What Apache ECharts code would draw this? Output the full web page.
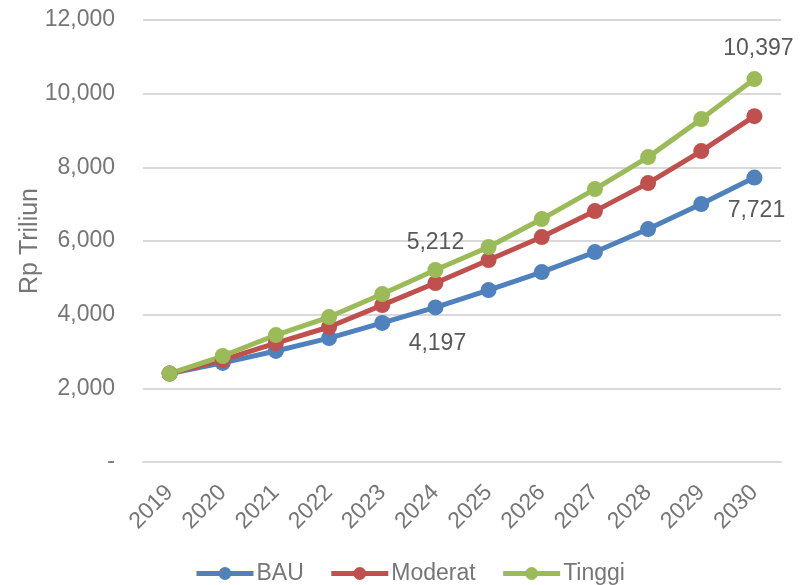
<!DOCTYPE html>
<html><head><meta charset="utf-8">
<script src="https://cdn.jsdelivr.net/npm/echarts@6/dist/echarts.min.js"></script>
<style>html,body{margin:0;padding:0;background:#fff}#c{width:806px;height:585px}</style>
</head><body><div id="c"></div>
<script>
const years = ['2019','2020','2021','2022','2023','2024','2025','2026','2027','2028','2029','2030'];
const bau = [2400, 2690, 3015, 3365, 3775, 4197, 4668, 5157, 5700, 6324, 7002, 7721];
const moderat = [2400, 2770, 3230, 3665, 4260, 4858, 5482, 6107, 6812, 7572, 8441, 9390];
const tinggi = [2400, 2877, 3447, 3935, 4560, 5212, 5835, 6595, 7409, 8278, 9309, 10397];
const yTicks = [0, 2000, 4000, 6000, 8000, 10000, 12000];
// labelled points
const labelled = {BAU: [5, 11], Tinggi: [5, 11]};

const font = 'Liberation Sans, Arial, sans-serif';
const FS = 23;
const axisColor = '#767676';
function mkData(name, arr) {
  return arr.map((v, i) => {
    if (!(labelled[name] && labelled[name].includes(i))) return v;
    let off = [0, 0], p = 'top';
    if (name === 'Tinggi' && i === 11) { p = 'top'; off = [4, -6]; }
    if (name === 'Tinggi' && i === 5) { p = 'top'; off = [0, -3]; }
    if (name === 'BAU' && i === 5) { p = 'bottom'; off = [2, 12]; }
    if (name === 'BAU' && i === 11) { p = 'bottom'; off = [2, 9]; }
    return {value: v, label: {show: true, position: p, offset: off,
      formatter: p2 => p2.value.toLocaleString('en-US'),
      color: '#595959', fontSize: FS, fontFamily: font}};
  });
}
const colors = {BAU: '#4f81bd', Moderat: '#c0504d', Tinggi: '#9bbb59'};
function ser(name, arr) {
  return {name, type: 'line', data: mkData(name, arr), symbol: 'circle', symbolSize: 16,
    lineStyle: {width: 5, color: colors[name]}, itemStyle: {color: colors[name]},
    label: {show: false}};
}
const chart = echarts.init(document.getElementById('c'));
chart.setOption({
  animation: false,
  grid: {left: 143, right: 25, top: 20, bottom: 123, containLabel: false},
  legend: {top: 557, left: 189, itemWidth: 57, itemHeight: 16, itemGap: 25,
    lineStyle: {width: 5}, 
    textStyle: {color: axisColor, fontSize: FS, fontFamily: font, padding: [0, 0, 0, -2]},
    data: ['BAU', 'Moderat', 'Tinggi']},
  xAxis: {type: 'category', data: years, boundaryGap: true,
    axisLine: {show: true, lineStyle: {color: '#d9d9d9', width: 2}},
    axisTick: {show: false},
    axisLabel: {rotate: 45, color: axisColor, fontSize: FS, fontFamily: font, margin: 27}},
  yAxis: {type: 'value', min: yTicks[0], max: yTicks[yTicks.length - 1], interval: 2000,
    name: 'Rp Triliun', nameLocation: 'middle', nameGap: 100, nameMoveOverlap: false,
    nameTextStyle: {color: axisColor, fontSize: 25, fontFamily: font},
    axisLine: {show: false}, axisTick: {show: false},
    splitLine: {lineStyle: {color: '#d9d9d9', width: 2}},
    axisLabel: {color: axisColor, fontSize: FS, fontFamily: font, margin: 28,
      formatter: v => v === 0 ? '-' : v.toLocaleString('en-US')}},
  series: [ser('BAU', bau), ser('Moderat', moderat), ser('Tinggi', tinggi)]
});
</script></body></html>
